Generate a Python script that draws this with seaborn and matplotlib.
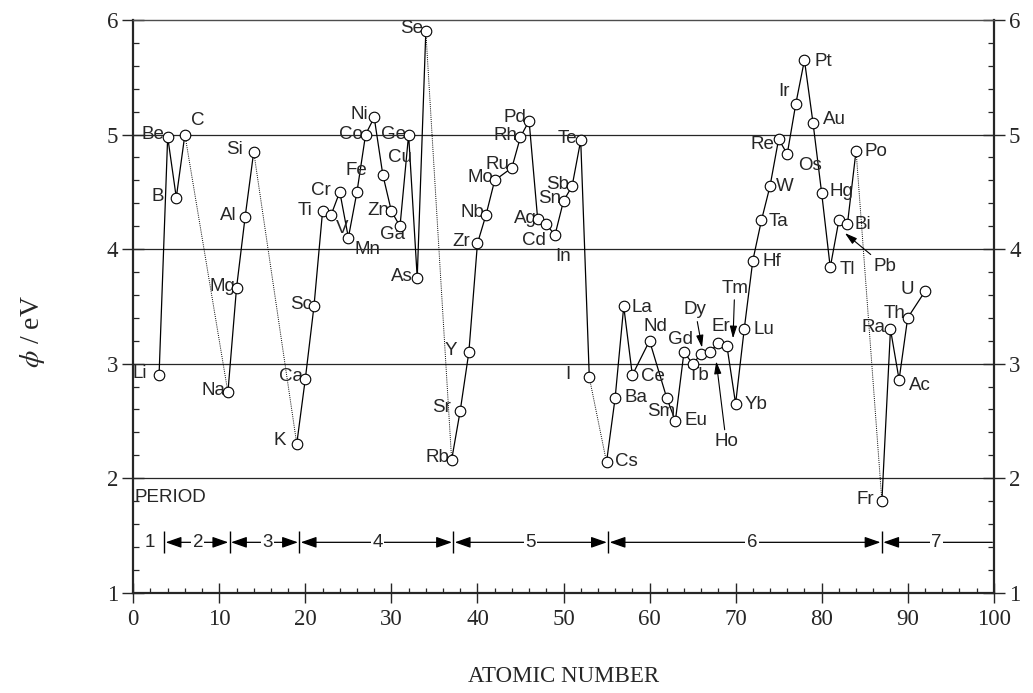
import numpy as np
import pandas as pd
import matplotlib
matplotlib.use("Agg")
import matplotlib.pyplot as plt
import seaborn as sns

# ------------------ DATA ------------------

elements = [
    "Li", "Be", "B", "C",
    "Na", "Mg", "Al", "Si",
    "K", "Ca", "Sc", "Ti", "V", "Cr", "Mn", "Fe", "Co", "Ni", "Cu", "Zn",
    "Ga", "Ge", "As", "Se",
    "Rb", "Sr", "Y", "Zr", "Nb", "Mo", "Ru", "Rh", "Pd", "Ag", "Cd", "In",
    "Sn", "Sb", "Te", "I",
    "Cs", "Ba", "La", "Ce", "Nd", "Sm", "Eu", "Gd", "Tb", "Dy", "Ho", "Er",
    "Tm", "Yb", "Lu", "Hf", "Ta", "W", "Re", "Os", "Ir", "Pt", "Au", "Hg",
    "Tl", "Pb", "Bi", "Po",
    "Fr", "Ra", "Ac", "Th", "U",
]
atomic_numbers = [
    3, 4, 5, 6,
    11, 12, 13, 14,
    19, 20, 21, 22, 23, 24, 25, 26, 27, 28, 29, 30,
    31, 32, 33, 34,
    37, 38, 39, 40, 41, 42, 44, 45, 46, 47, 48, 49,
    50, 51, 52, 53,
    55, 56, 57, 58, 60, 62, 63, 64, 65, 66, 67, 68,
    69, 70, 71, 72, 73, 74, 75, 76, 77, 78, 79, 80,
    81, 82, 83, 84,
    87, 88, 89, 90, 92,
]
work_functions = [
    2.90, 4.98, 4.45, 5.00,
    2.75, 3.66, 4.28, 4.85,
    2.30, 2.87, 3.50, 4.33, 4.30, 4.50, 4.10, 4.50, 5.00, 5.15, 4.65, 4.33,
    4.20, 5.00, 3.75, 5.90,
    2.16, 2.59, 3.10, 4.05, 4.30, 4.60, 4.71, 4.98, 5.12, 4.26, 4.22, 4.12,
    4.42, 4.55, 4.95, 2.88,
    2.14, 2.70, 3.50, 2.90, 3.20, 2.70, 2.50, 3.10, 3.00, 3.08, 3.10, 3.18,
    3.15, 2.65, 3.30, 3.90, 4.25, 4.55, 4.96, 4.83, 5.27, 5.65, 5.10, 4.49,
    3.84, 4.25, 4.22, 4.86,
    1.80, 3.30, 2.86, 3.40, 3.63,
]

# first element of each new block (alkali metals)
block_starts = [11, 19, 37, 55, 87]

# period bar at the bottom
period_names = ["1", "2", "3", "4", "5", "6", "7"]
period_bounds = [3.6, 11.2, 19.3, 37.2, 55.2, 87.0, 100.0]
period_label_x = [1.9, 7.5, 15.6, 28.4, 46.2, 71.9, 93.3]

# ------------------ LABEL PLACEMENT ------------------
# (ha, dx, dy) in pixels relative to the marker, dy positive up

label_pos = {
    "Li": ("right", -12, 2), "Be": ("right", -3, 2), "B": ("right", -12, 1),
    "C": ("left", 6, 14), "Na": ("right", -2, 2), "Mg": ("right", -1, 2),
    "Al": ("right", -9, 2), "Si": ("right", -11, 2), "K": ("right", -11, 3),
    "Ca": ("right", -2, 2), "Sc": ("right", -2, 2), "Ti": ("right", -10, 1),
    "V": ("center", 11, -14), "Cr": ("right", -9, 1), "Mn": ("left", 6, -12),
    "Fe": ("center", -1, 21), "Co": ("right", -3, 0), "Ni": ("right", -6, 3),
    "Cu": ("left", 5, 17), "Zn": ("right", -2, 1), "Ga": ("center", -7, -8),
    "Ge": ("right", -3, 0), "As": ("right", -4, 1), "Se": ("right", -3, 3),
    "Rb": ("right", -2, 2), "Sr": ("right", -9, 3), "Y": ("right", -12, 2),
    "Zr": ("right", -7, 2), "Nb": ("right", -2, 2), "Mo": ("right", -1, 3),
    "Ru": ("right", -2, 3), "Rh": ("right", -3, 1), "Pd": ("right", -3, 3),
    "Ag": ("right", -1, 1), "Cd": ("right", 0, -17), "In": ("left", 0, -21),
    "Sn": ("right", -2, 2), "Sb": ("right", -3, 2), "Te": ("right", -3, 2),
    "I": ("right", -19, 3), "Cs": ("left", 8, 1), "Ba": ("left", 9, 1),
    "La": ("left", 8, -1), "Ce": ("left", 9, -1), "Nd": ("center", 6, 14),
    "Sm": ("center", -6, -13), "Eu": ("left", 9, 0), "Gd": ("center", -3, 13),
    "Tb": ("center", 6, -12), "Er": ("center", 2, 17), "Yb": ("left", 9, -1),
    "Lu": ("left", 9, 0), "Hf": ("left", 10, -1), "Ta": ("left", 7, -1),
    "W": ("left", 6, 0), "Re": ("right", -4, -5), "Os": ("left", 11, -11),
    "Ir": ("right", -6, 12), "Pt": ("left", 10, -1), "Au": ("left", 10, 4),
    "Hg": ("left", 8, 1), "Tl": ("left", 9, -2), "Bi": ("left", 7, -1),
    "Po": ("left", 8, -1), "Fr": ("right", -8, 2), "Ra": ("right", -5, 2),
    "Ac": ("left", 10, -6), "Th": ("right", -2, 4), "U": ("right", -11, 2),
}

# labels pointed at with an arrow: text position, arrow tip (data coords)
arrow_labels = {
    "Dy": ((65.3, 3.47), (66.1, 3.14)),
    "Tm": ((69.9, 3.66), (69.7, 3.22)),
    "Ho": ((68.9, 2.32), (67.75, 3.02)),
    "Pb": ((87.35, 3.85), (82.7, 4.14)),
}

# ------------------ BUILD TABLES ------------------

df = pd.DataFrame({"element": elements, "Z": atomic_numbers, "phi": work_functions})
df["block"] = np.searchsorted(block_starts, df["Z"], side="right")

gap_rows = []
for i, start in enumerate(block_starts):
    prev = df[df["block"] == i].iloc[-1]
    nxt = df[df["Z"] == start].iloc[0]
    gap_rows.append({"Z": prev["Z"], "phi": prev["phi"], "gap": i})
    gap_rows.append({"Z": nxt["Z"], "phi": nxt["phi"], "gap": i})
gaps = pd.DataFrame(gap_rows)

# ------------------ PLOT ------------------

sns.set_style("ticks")
plt.rcParams["font.family"] = ["Liberation Serif", "DejaVu Serif"]
plt.rcParams["mathtext.fontset"] = "stix"

label_font = ["Liberation Sans Narrow", "Liberation Sans", "DejaVu Sans"]
plain_font = ["Liberation Sans", "DejaVu Sans"]
label_size = 13.5

fig = plt.figure(figsize=(10.33, 6.93), dpi=100)
ax = fig.add_axes([0.129, 0.1447, 0.833, 0.8264])

for yv in [2, 3, 4, 5]:
    ax.axhline(yv, color="0.15", lw=0.9, zorder=1)

sns.lineplot(data=gaps, x="Z", y="phi", units="gap", estimator=None,
             color="black", lw=0.7, linestyle=(0, (1, 1.2)), ax=ax, zorder=2)
sns.lineplot(data=df, x="Z", y="phi", units="block", estimator=None,
             color="black", lw=0.9, ax=ax, zorder=2)
sns.scatterplot(data=df, x="Z", y="phi", marker="o", s=58, facecolor="white",
                edgecolor="black", linewidth=0.8, ax=ax, zorder=4)

for name, z, phi in zip(elements, atomic_numbers, work_functions):
    if name in label_pos:
        ha, dx, dy = label_pos[name]
        ax.annotate(name, xy=(z, phi), xytext=(dx, dy), textcoords="offset pixels",
                    ha=ha, va="center", fontsize=label_size, family=label_font, zorder=3)

for name, (txt, tip) in arrow_labels.items():
    ax.annotate(name, xy=tip, xytext=txt, ha="center", va="center",
                fontsize=label_size, family=label_font, zorder=3,
                arrowprops=dict(arrowstyle="-|>,head_length=0.55,head_width=0.16",
                                color="black", lw=0.8, shrinkA=0, shrinkB=0))

# period bar
bar_y = 1.44
ax.text(0.1, 1.83, "PERIOD", ha="left", va="center", fontsize=label_size,
        family=label_font)
ax.vlines(period_bounds[:-1], 1.35, 1.54, color="black", lw=1.0)
for i, name in enumerate(period_names):
    if i > 0:
        style = "<|-|>" if i < len(period_names) - 1 else "<|-"
        ax.annotate("", xy=(period_bounds[i], bar_y), xytext=(period_bounds[i - 1], bar_y),
                    arrowprops=dict(arrowstyle=style + ",head_length=0.8,head_width=0.28",
                                    color="black", lw=0.9, shrinkA=1, shrinkB=1,
                                    mutation_scale=12))
    ax.text(period_label_x[i], bar_y, name, ha="center", va="center", fontsize=13.5,
            family=plain_font, zorder=5,
            bbox=dict(facecolor="white", edgecolor="none", pad=1.0))

# axes
ax.set_xlim(0, 100)
ax.set_ylim(1, 6)
ax.set_xticks(np.arange(0, 101, 10))
ax.set_xticks(np.arange(0, 101, 2), minor=True)
ax.set_yticks(np.arange(1, 7, 1))
ax.set_yticks(np.arange(1, 6.01, 0.2), minor=True)
ax.tick_params(axis="x", which="major", direction="inout", length=15, width=1.0,
               labelsize=16.5, pad=4, top=False)
ax.tick_params(axis="x", which="minor", direction="in", length=3.5, width=0.9, top=False)
ax.tick_params(axis="y", which="major", direction="inout", length=16, width=1.0,
               labelsize=16.5, pad=3, left=True, right=True, labelleft=True, labelright=True)
ax.tick_params(axis="y", which="minor", direction="in", length=4.5, width=0.9,
               left=True, right=True)
for side in ["left", "right", "bottom"]:
    ax.spines[side].set_linewidth(1.6)
ax.spines["top"].set_linewidth(1.0)
ax.spines["top"].set_color("0.3")
ax.set_xlabel("")
ax.set_ylabel("")

fig.text(0.5455, 0.0245, "ATOMIC NUMBER", ha="center", va="center", fontsize=16.5)
fig.text(0.031, 1 - 331.7 / 693, r"$\phi$ / eV", ha="center", va="center",
         rotation=90, fontsize=20)

fig.savefig("out.png", dpi=100)
plt.close(fig)
